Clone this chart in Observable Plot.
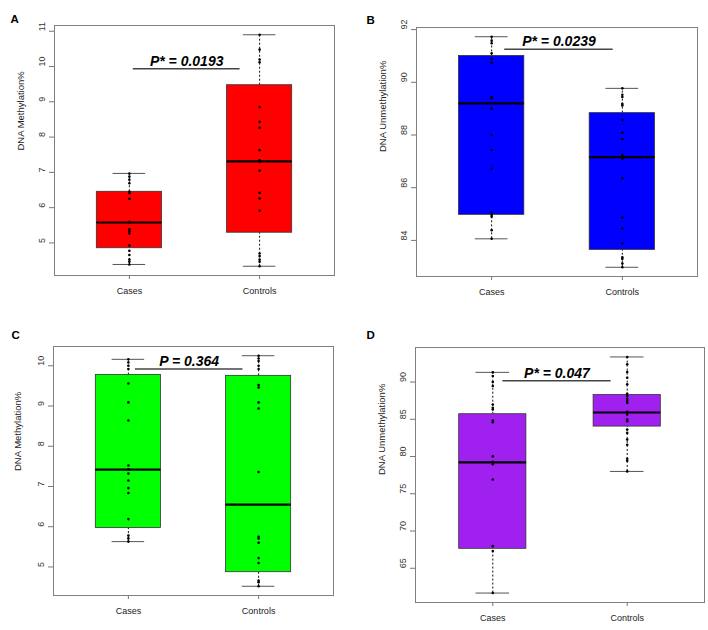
<!DOCTYPE html>
<html>
<head>
<meta charset="utf-8">
<script src="https://cdn.jsdelivr.net/npm/d3@7"></script>
<script src="https://cdn.jsdelivr.net/npm/@observablehq/plot@0.6"></script>
<style>
  html, body { margin: 0; padding: 0; background: #fff; }
  #wrap { position: relative; width: 708px; height: 630px; overflow: hidden; background: #fff; }
  #wrap > div.panel { position: absolute; }
</style>
</head>
<body>
<div id="wrap"></div>
<script>
// ---------- shared categories and labels ----------
const groups = ["Cases", "Controls"];
const panelLetters = ["A", "B", "C", "D"];
const yTitles = ["DNA Methylation%", "DNA Unmethylation%", "DNA Methylation%", "DNA Unmethylation%"];
const pLabels = ["P* = 0.0193", "P* = 0.0239", "P = 0.364", "P* = 0.047"];
const pLineY = [9.94, 91.25, 9.92, 90.18];
const pLineFrom = [1.03, 1.10, 1.054, 1.075];
const pLineTo = [1.85, 1.93, 1.88, 1.88];

// ---------- panel A ----------
const aCases = [6.97, 6.88, 6.79, 6.69, 6.45, 6.41, 6.25, 5.59, 5.39, 5.33, 5.27, 4.93, 4.78, 4.66, 4.53, 4.47, 4.39];
const aControls = [10.9, 10.48, 10.20, 10.12, 8.85, 8.43, 8.26, 7.63, 7.34, 7.30, 7.05, 6.42, 6.26, 5.91, 4.70, 4.63, 4.53, 4.47, 4.34];
const aLow = [4.39, 4.34], aQ1 = [4.85, 5.29], aMedian = [5.58, 7.31], aQ3 = [6.45, 9.47], aHigh = [6.97, 10.9];
const aTicks = [5, 6, 7, 8, 9, 10, 11];

// ---------- panel B ----------
const bCases = [91.73, 91.58, 91.48, 91.10, 90.89, 90.74, 89.44, 89.39, 89.0, 88.0, 87.43, 86.72, 85.06, 84.96, 84.9, 84.39, 84.06];
const bControls = [89.77, 89.53, 89.44, 89.18, 89.12, 88.57, 88.09, 87.85, 87.25, 87.19, 87.10, 86.36, 84.87, 84.45, 83.88, 83.36, 83.29, 83.12, 82.98];
const bLow = [84.06, 82.98], bQ1 = [84.97, 83.64], bMedian = [89.20, 87.16], bQ3 = [91.0, 88.83], bHigh = [91.73, 89.77];
const bTicks = [84, 86, 88, 90, 92];

// ---------- panel C ----------
const cCases = [10.16, 10.08, 10.0, 9.92, 9.56, 9.09, 8.64, 7.52, 7.43, 7.32, 7.15, 6.96, 6.84, 6.19, 5.78, 5.71, 5.63];
const cControls = [10.25, 10.18, 10.12, 10.0, 9.92, 9.52, 9.46, 9.09, 8.94, 7.36, 5.75, 5.71, 5.60, 5.22, 5.10, 4.66, 4.62, 4.52];
const cLow = [5.63, 4.52], cQ1 = [5.97, 4.87], cMedian = [7.42, 6.55], cQ3 = [9.77, 9.75], cHigh = [10.16, 10.25];
const cTicks = [5, 6, 7, 8, 9, 10];

// ---------- panel D ----------
const dCases = [91.30, 90.81, 90.0, 89.46, 86.99, 86.54, 86.31, 84.83, 84.60, 80.02, 79.30, 78.98, 76.92, 67.97, 67.30, 61.67];
const dControls = [93.37, 92.38, 91.35, 90.58, 89.69, 88.43, 88.11, 87.75, 87.44, 87.21, 86.0, 85.64, 84.96, 84.74, 83.62, 83.17, 82.27, 81.59, 79.70, 79.43, 78.0];
const dLow = [61.67, 78.0], dQ1 = [67.61, 84.02], dMedian = [79.21, 85.91], dQ3 = [85.68, 88.25], dHigh = [91.30, 93.37];
const dTicks = [65, 70, 75, 80, 85, 90];

// ---------- styling / layout (not data) ----------
const fills = ["#ff0000", "#0000ff", "#00ff00", "#a020f0"];
const layout = [
  {left: 0,   top: 0,   mL: 54, mT: 25, mR: 20, mB: 40, ldx: -44, ldy: -10.5, tdx: -34},
  {left: 354, top: 0,   mL: 62, mT: 27, mR: 11, mB: 39, ldx: -50, ldy: -12,   tdx: -34},
  {left: 0,   top: 315, mL: 53, mT: 31, mR: 21, mB: 35, ldx: -42, ldy: -15.7, tdx: -36},
  {left: 354, top: 315, mL: 61, mT: 32, mR: 4,  mB: 28, ldx: -49, ldy: -16.3, tdx: -34}
];
const FONT = "'Liberation Sans', Arial, sans-serif";

const panels = [
  {cases: aCases, controls: aControls, low: aLow, q1: aQ1, med: aMedian, q3: aQ3, high: aHigh, ticks: aTicks},
  {cases: bCases, controls: bControls, low: bLow, q1: bQ1, med: bMedian, q3: bQ3, high: bHigh, ticks: bTicks},
  {cases: cCases, controls: cControls, low: cLow, q1: cQ1, med: cMedian, q3: cQ3, high: cHigh, ticks: cTicks},
  {cases: dCases, controls: dControls, low: dLow, q1: dQ1, med: dMedian, q3: dQ3, high: dHigh, ticks: dTicks}
];

const wrap = document.getElementById("wrap");

panels.forEach((p, k) => {
  const L = layout[k];
  const summary = groups.map((g, j) => ({
    group: g, i: j + 1,
    low: p.low[j], q1: p.q1[j], med: p.med[j], q3: p.q3[j], high: p.high[j]
  }));
  const points = [
    ...p.cases.map(v => ({i: 1, v})),
    ...p.controls.map(v => ({i: 2, v}))
  ];
  const ext = d3.extent(points, d => d.v);
  const pad = (ext[1] - ext[0]) * 0.04; // R's default axis extension
  const ann = [{x1: pLineFrom[k], x2: pLineTo[k], y: pLineY[k], label: pLabels[k]}];

  const chart = Plot.plot({
    width: 354,
    height: 315,
    marginLeft: L.mL, marginTop: L.mT, marginRight: L.mR, marginBottom: L.mB,
    style: {fontFamily: FONT, fontSize: "9px", color: "#222", background: "white", overflow: "visible"},
    x: {domain: [0.425, 2.575]},
    y: {domain: [ext[0] - pad, ext[1] + pad]},
    marks: [
      Plot.ruleX(summary, {x: "i", y1: "q3", y2: "high", stroke: "#111", strokeWidth: 1, strokeDasharray: "2,2"}),
      Plot.ruleX(summary, {x: "i", y1: "low", y2: "q1", stroke: "#111", strokeWidth: 1, strokeDasharray: "2,2"}),
      Plot.ruleY(summary, {y: "high", x1: d => d.i - 0.125, x2: d => d.i + 0.125, stroke: "#555", strokeWidth: 1}),
      Plot.ruleY(summary, {y: "low", x1: d => d.i - 0.125, x2: d => d.i + 0.125, stroke: "#555", strokeWidth: 1}),
      Plot.rect(summary, {x1: d => d.i - 0.25, x2: d => d.i + 0.25, y1: "q1", y2: "q3", fill: fills[k], stroke: "#333", strokeWidth: 0.8}),
      Plot.ruleY(summary, {y: "med", x1: d => d.i - 0.25, x2: d => d.i + 0.25, stroke: "#000", strokeWidth: 2.2}),
      Plot.dot(points, {x: "i", y: "v", r: 1.3, fill: "#000", stroke: "none"}),
      Plot.frame({stroke: "#808080", strokeWidth: 1}),
      Plot.axisX({ticks: [1, 2], tickFormat: d => groups[d - 1], tickSize: 4, tickPadding: 8, label: null, stroke: "#777", fill: "#222", fontSize: 9}),
      Plot.axisY({ticks: p.ticks, tickSize: 5, label: null, stroke: "#777", fill: "none"}),
      Plot.text(p.ticks, {y: d => d, text: d => String(d), frameAnchor: "left", dx: -12.5, rotate: -90, fill: "#333", fontSize: 9}),
      Plot.text([yTitles[k]], {text: d => d, frameAnchor: "left", dx: L.tdx, rotate: -90, fill: "#222", fontSize: 9.5}),
      Plot.text([panelLetters[k]], {text: d => d, frameAnchor: "top-left", dx: L.ldx, dy: L.ldy, fontWeight: "bold", fontSize: 11.5, fill: "#000"}),
      Plot.ruleY(ann, {y: "y", x1: "x1", x2: "x2", stroke: "#444", strokeWidth: 1.5}),
      Plot.text(ann, {x: d => (d.x1 + d.x2) / 2, y: "y", text: "label", lineAnchor: "bottom", dy: -3, fontWeight: "bold", fontStyle: "italic", fontSize: 14, fill: "#000"})
    ]
  });
  const holder = document.createElement("div");
  holder.className = "panel";
  holder.style.left = L.left + "px";
  holder.style.top = L.top + "px";
  holder.appendChild(chart);
  wrap.appendChild(holder);
});
</script>
</body>
</html>
